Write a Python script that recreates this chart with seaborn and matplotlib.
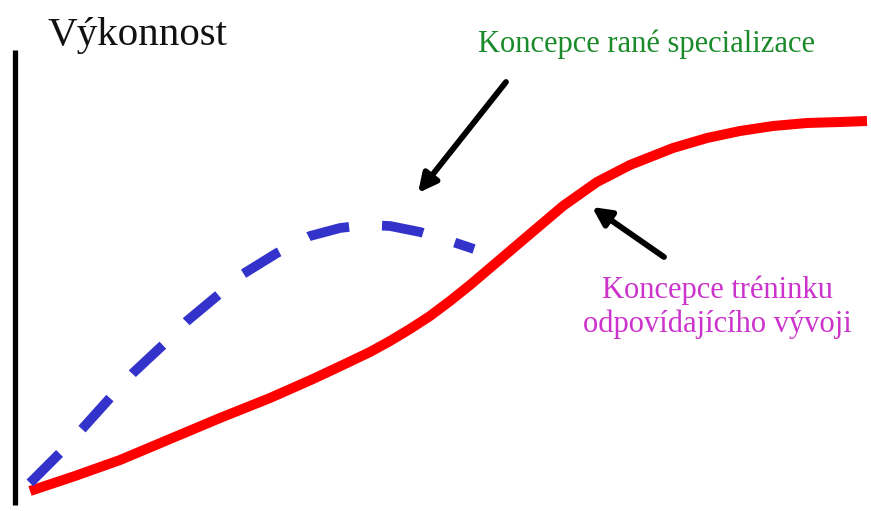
import matplotlib
matplotlib.use("Agg")
import matplotlib.pyplot as plt
import seaborn as sns
import pandas as pd

# Curves (horizontal = time/age, vertical = performance, in picture units, y grows downward)
blue_x = [30, 60, 83, 110, 133, 163, 187, 217, 243, 277, 310, 340, 365, 390, 420, 450, 474]
blue_y = [483, 453, 428, 398, 373, 345, 321, 296, 274, 253, 236, 228, 225, 226, 232, 241, 249]

red_x = [30, 75, 120, 170, 220, 270, 313, 347, 370, 390, 410, 430, 450, 470, 490, 510,
         530, 563, 597, 630, 673, 707, 740, 773, 807, 840, 867]
red_y = [491, 476, 460, 439, 418, 398, 379, 363, 352, 341, 329, 316, 301, 285, 268, 251,
         234, 206, 182, 165, 148, 138, 131, 126, 123, 122, 121]

title_text = "Výkonnost"
green_label = "Koncepce rané specializace"
magenta_lines = ["Koncepce tréninku", "odpovídajícího vývoji"]

sns.set_style("white")
plt.rcParams['font.family'] = ['Liberation Serif', 'DejaVu Serif']

fig = plt.figure(figsize=(8.71, 5.11), dpi=100)
ax = fig.add_axes([0, 0, 1, 1])
ax.set_xlim(0, 871)
ax.set_ylim(511, 0)
ax.axis("off")

blue_df = pd.DataFrame({"x": blue_x, "y": blue_y})
red_df = pd.DataFrame({"x": red_x, "y": red_y})

sns.lineplot(data=red_df, x="x", y="y", ax=ax, color="#ff0000", linewidth=7.2,
             sort=False, estimator=None, solid_capstyle="butt", solid_joinstyle="round")
sns.lineplot(data=blue_df, x="x", y="y", ax=ax, color="#3333cc", linewidth=7.0,
             sort=False, estimator=None)
ax.lines[-1].set_dashes((4.3, 3.4))
ax.lines[-1].set_dash_capstyle("butt")
ax.lines[-1].set_dash_joinstyle("round")

# vertical axis line
ax.plot([15, 15], [50, 505], color="black", linewidth=3.8, solid_capstyle="butt")

ax.text(47, 45, title_text, fontsize=29.5, color="#111111", ha="left", va="baseline")
ax.text(646, 52, green_label, fontsize=22, color="#1a8a2a", ha="center", va="baseline")
ax.text(717, 298, magenta_lines[0], fontsize=22, color="#cc33cc", ha="center", va="baseline")
ax.text(717, 332, magenta_lines[1], fontsize=22, color="#cc33cc", ha="center", va="baseline")

ax.annotate("", xy=(418, 193), xytext=(506, 82),
            arrowprops=dict(arrowstyle="-|>,head_length=1.1,head_width=0.55", color="black", lw=4.2,
                            shrinkA=0, shrinkB=0))
ax.annotate("", xy=(592, 207), xytext=(664, 257),
            arrowprops=dict(arrowstyle="-|>,head_length=1.1,head_width=0.55", color="black", lw=4.2,
                            shrinkA=0, shrinkB=0))

fig.savefig("out.png", dpi=100)
